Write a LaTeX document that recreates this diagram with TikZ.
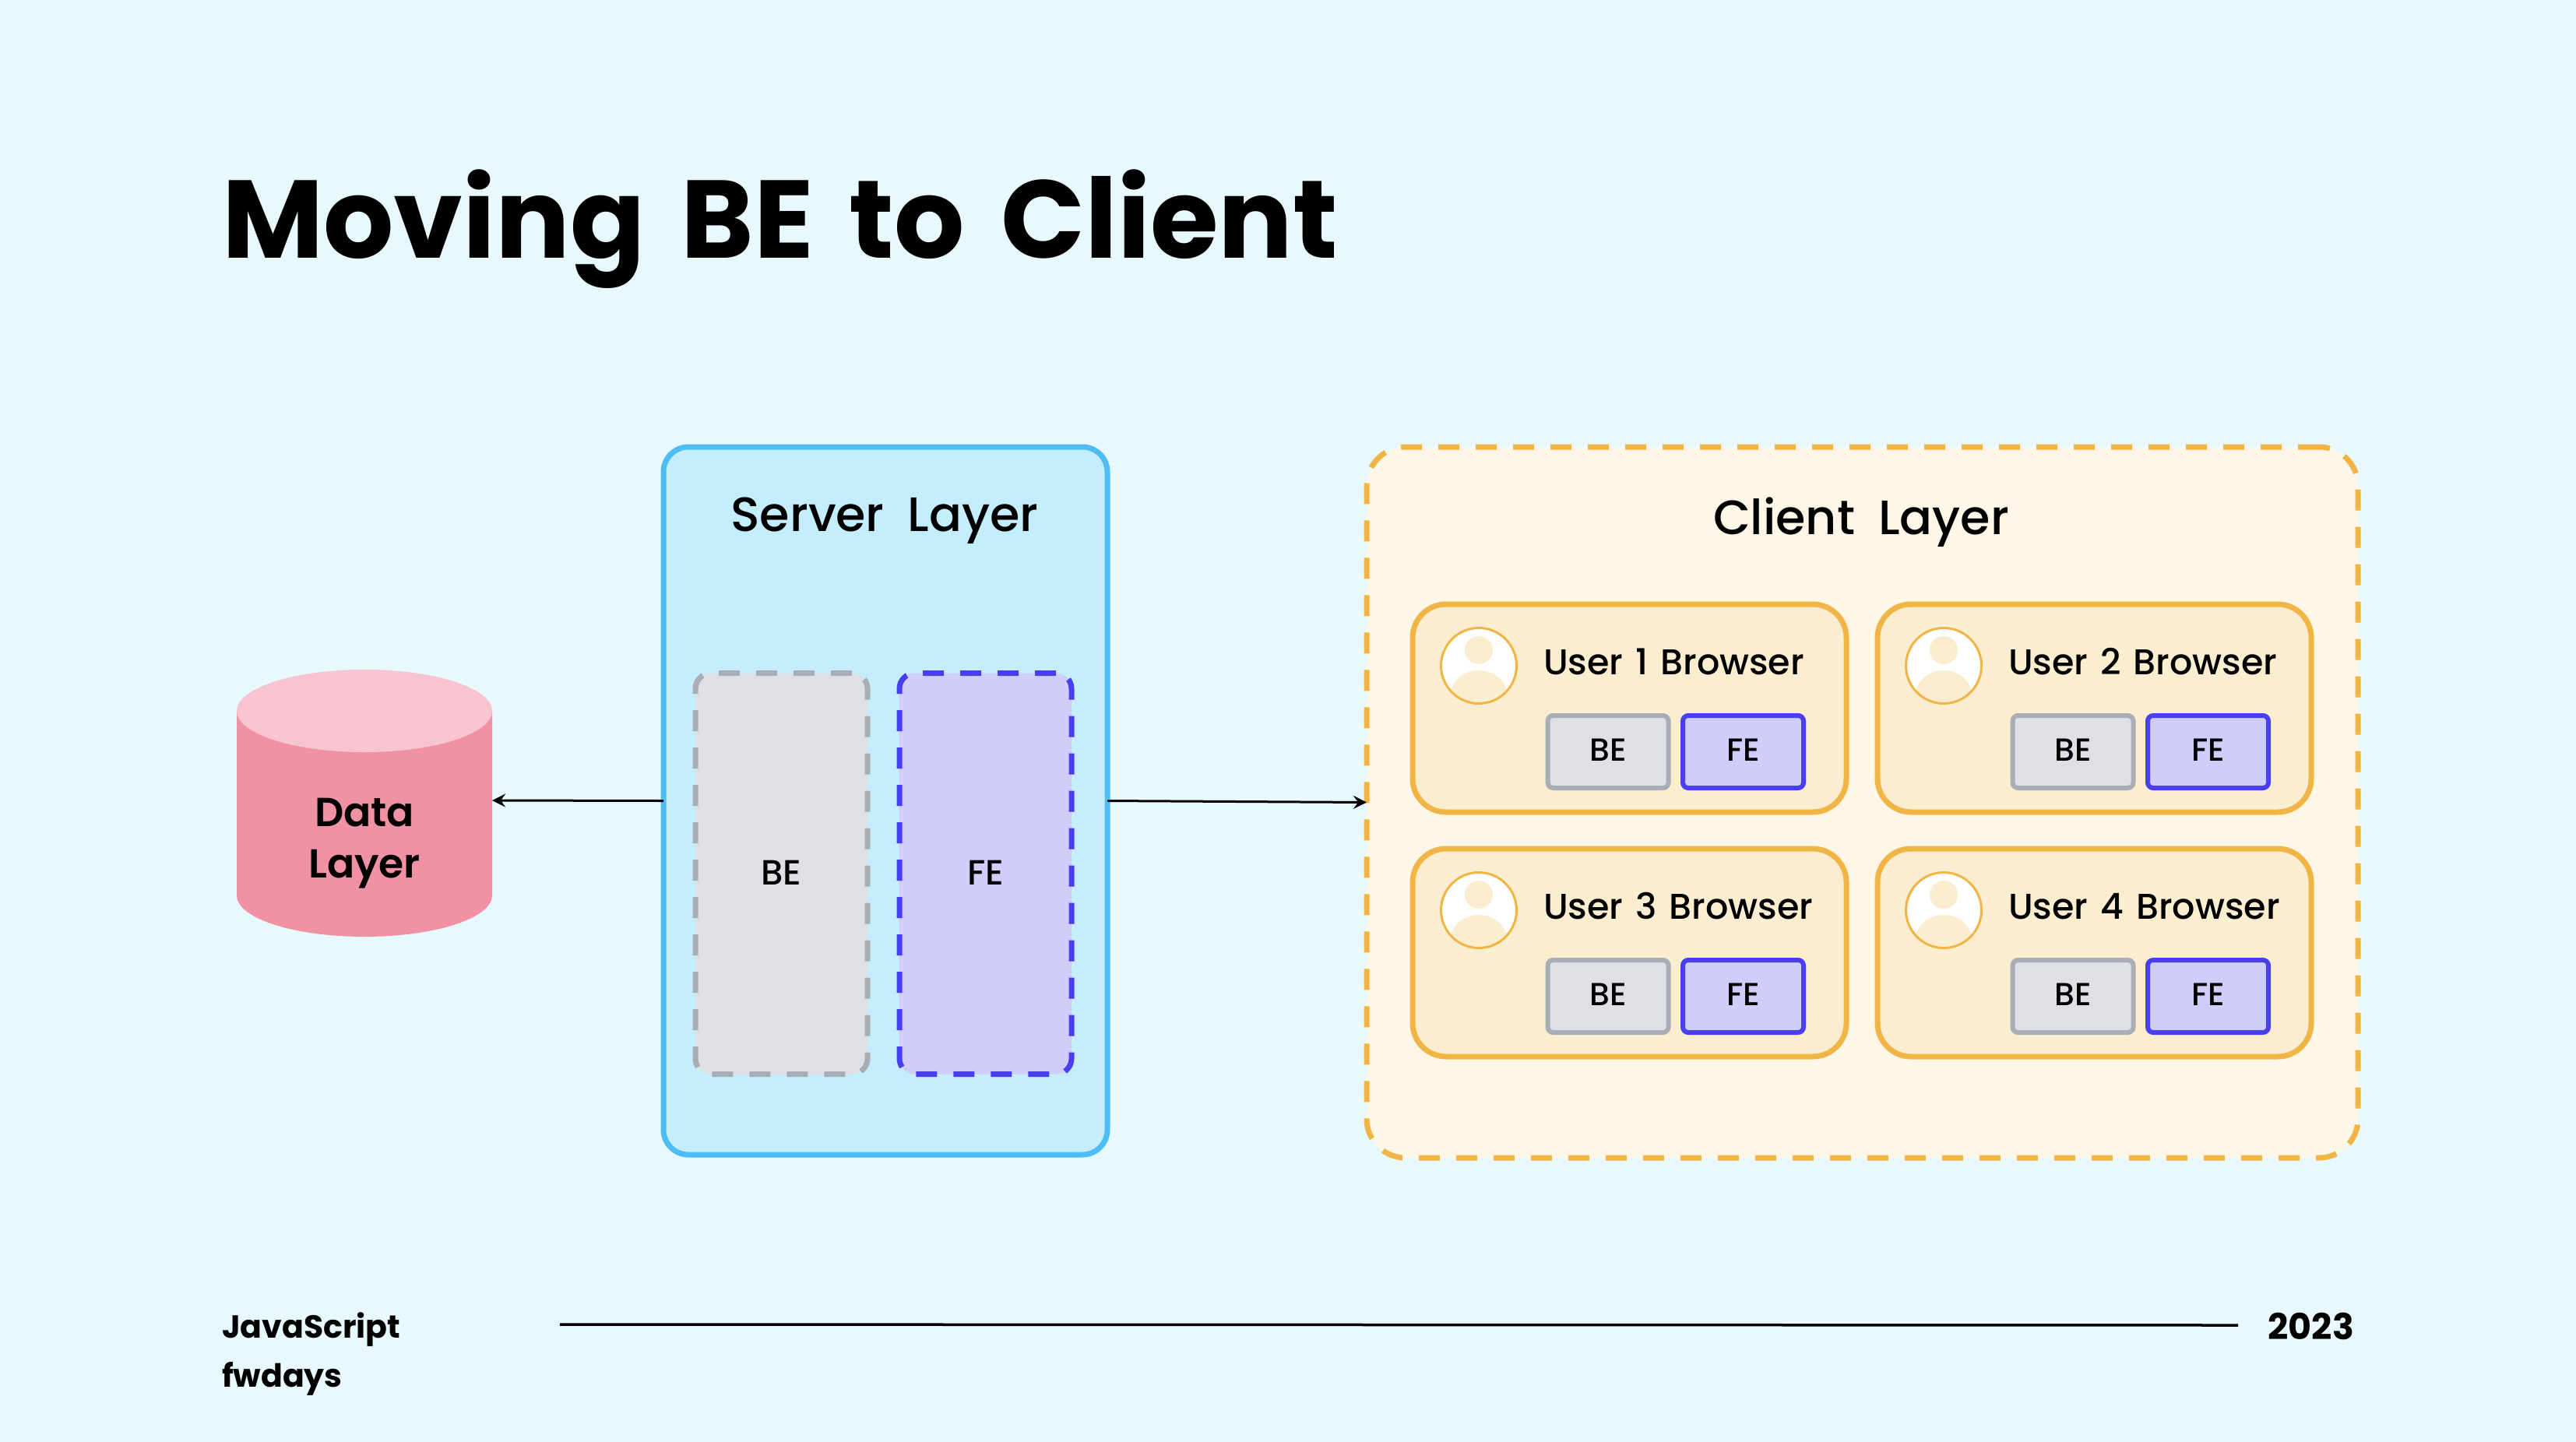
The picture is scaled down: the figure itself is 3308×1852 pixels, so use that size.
\documentclass[tikz,border=0pt]{standalone}
\usepackage{fontspec}
\setmainfont{Poppins}[UprightFont=* Medium,BoldFont=* Bold]
\newfontfamily\semi{Poppins}[UprightFont=* SemiBold]
\usetikzlibrary{arrows.meta}
\definecolor{bgc}{HTML}{E8F9FE}
\definecolor{srvfill}{HTML}{C4EDFD}
\definecolor{srvline}{HTML}{4FBDF5}
\definecolor{befill}{HTML}{DFE0E6}
\definecolor{beline}{HTML}{A9ADB5}
\definecolor{fefill}{HTML}{D0CDFB}
\definecolor{feline}{HTML}{4A3FF0}
\definecolor{clifill}{HTML}{FEF7E8}
\definecolor{usrfill}{HTML}{FBEDCF}
\definecolor{cliline}{HTML}{F0B545}
\definecolor{cylside}{HTML}{F092A3}
\definecolor{cyltop}{HTML}{F7C4CF}
\newcommand{\fs}[1]{\fontsize{#1}{#1}\selectfont}
\tikzset{
  x=1pt,y=-1pt,
  panel/.style={rectangle,outer sep=0pt,inner sep=0pt},
  dashline/.style={dash pattern=on 27pt off 21pt,line width=7pt},
  txt/.style={inner sep=0pt,outer sep=0pt,anchor=base,text=black},
  small/.style={panel,rounded corners=7pt,line width=6pt,minimum width=155pt,minimum height=93pt,font=\fs{41}},
  link/.style={line width=3pt,draw=black,-{Stealth[length=17pt,width=17pt,inset=6pt]}},
}
\begin{document}
\begin{tikzpicture}
\useasboundingbox (0,0) rectangle (3308,1852);
\fill[bgc] (0,0) rectangle (3308,1852);
\node[txt,anchor=base west,font=\fs{142}\bfseries] (title) at (285,331) {\spaceskip=46pt Moving BE to Client};
% Data layer
\fill[cylside] (304,913) -- (304,1150) arc[start angle=180,end angle=360,x radius=164,y radius=-53] -- (632,913) -- cycle;
\fill[cyltop] (468,913) ellipse[x radius=164,y radius=53];
\node[panel,minimum width=328pt,minimum height=343pt] (data) at (468,1031.5) {};
\coordinate (dataedge) at (632,1028);
\node[txt,font=\fs{52}\semi] (dataA) at (468,1061) {Data};
\node[txt,font=\fs{52}\semi] (dataB) at (468,1127) {Layer};
% Server layer
\node[panel,draw=srvline,fill=srvfill,line width=7pt,rounded corners=32pt,minimum width=570pt,minimum height=909pt] (server) at (1137,1028.5) {};
\node[txt,font=\fs{62}] (srvtitle) at (1136,682) {\spaceskip=30pt Server Layer};
\node[panel,draw=beline,fill=befill,dashline,rounded corners=20pt,minimum width=221pt,minimum height=515pt,font=\fs{45}] (srvbe) at (1003.5,1122) {\raisebox{2pt}{BE}};
\node[panel,draw=feline,fill=fefill,dashline,rounded corners=20pt,minimum width=221pt,minimum height=515pt,font=\fs{45}] (srvfe) at (1265.5,1122) {\raisebox{2pt}{FE}};
% Client layer
\node[panel,draw=cliline,fill=clifill,dashline,rounded corners=50pt,minimum width=1273pt,minimum height=913pt] (client) at (2391.5,1030.5) {};
\node[txt,font=\fs{62}] (clititle) at (2390,686) {\spaceskip=30pt Client Layer};
\foreach \n/\ox/\oy in {1/0/0,2/597/0,3/0/314,4/597/314}{
  \begin{scope}[shift={(\ox,\oy)}]
    \node[panel,draw=cliline,fill=usrfill,line width=7pt,rounded corners=43pt,minimum width=557pt,minimum height=267pt] (user\n) at (2092.5,909.5) {};
    \begin{scope}
      \clip (1899,855) circle[radius=48];
      \fill[white] (1899,855) circle[radius=48];
      \fill[usrfill] (1899,835) circle[radius=18];
      \fill[usrfill] (1899,895) ellipse[x radius=37,y radius=34];
    \end{scope}
    \node[panel,circle,draw=cliline,line width=3pt,minimum size=97pt] (avatar\n) at (1899,855) {};
    \node[txt,anchor=base west,font=\fs{46}] (ulabel\n) at (1982,866) {\spaceskip=16pt User \n\ Browser};
    \node[small,draw=beline,fill=befill] (ube\n) at (2065,965.5) {\raisebox{4pt}{BE}};
    \node[small,draw=feline,fill=fefill] (ufe\n) at (2238.5,965.5) {\raisebox{4pt}{FE}};
  \end{scope}
}
% Connectors
\draw[link] (server.west) -- (dataedge);
\draw[link] (server.east) -- (client.west);
% Footer
\node[txt,anchor=base west,font=\fs{41}\bfseries] (foot1) at (285,1718) {JavaScript};
\node[txt,anchor=base west,font=\fs{41}\bfseries] (foot2) at (285,1781) {fwdays};
\node[txt,anchor=base east,font=\fs{46}\bfseries] (year) at (3023,1720) {2023};
\coordinate (ruleA) at (719,1701);
\coordinate (ruleB) at (2874,1702);
\draw[line width=3.5pt,black] (ruleA) -- (ruleB);
\end{tikzpicture}
\end{document}
